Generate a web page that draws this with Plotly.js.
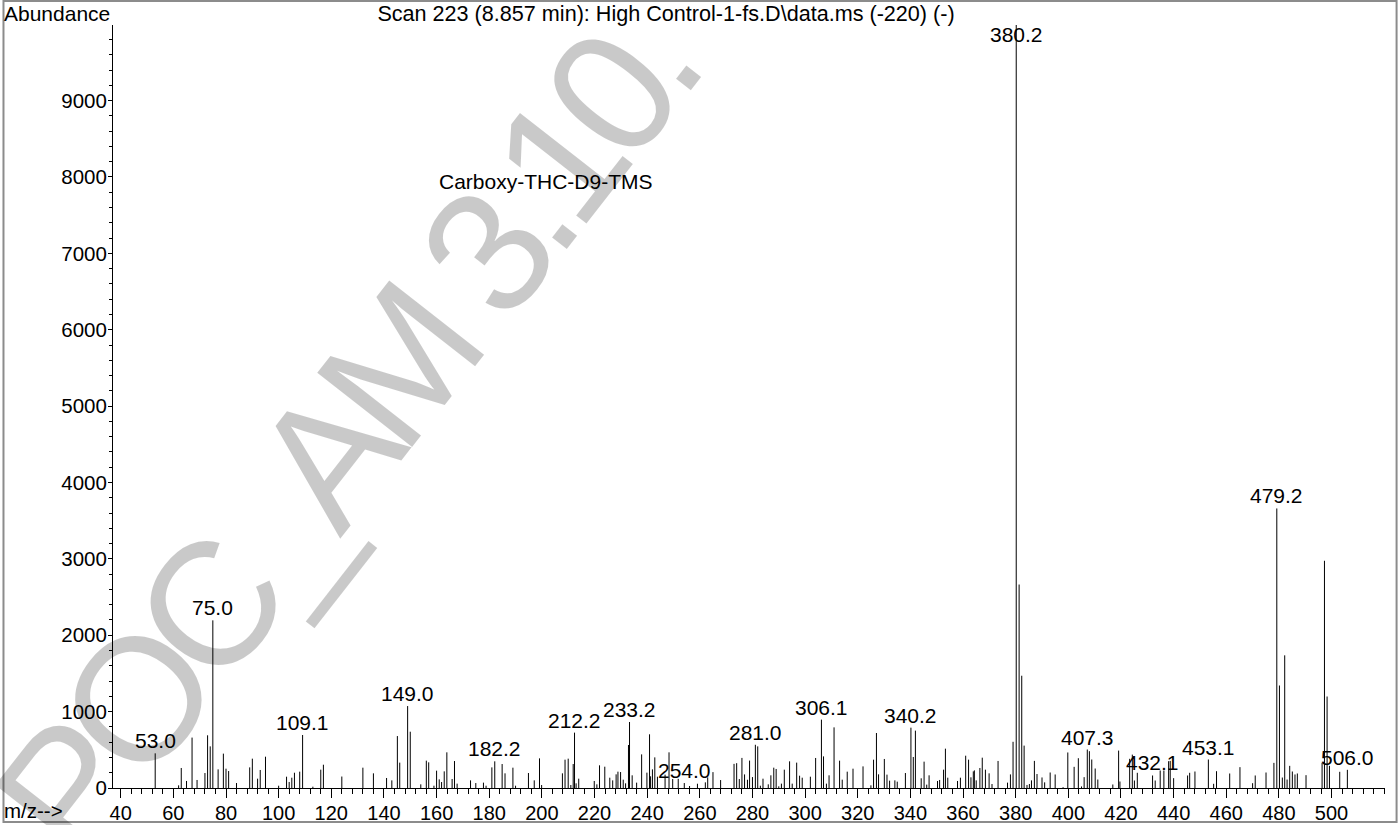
<!DOCTYPE html>
<html>
<head>
<meta charset="utf-8">
<script src="https://cdn.plot.ly/plotly-3.0.1.min.js"></script>
<style>
  html, body { margin: 0; padding: 0; background: #ffffff; }
  #chart { width: 1400px; height: 825px; }
</style>
</head>
<body>
<div id="chart"></div>
<script>
// ---- data: m/z of each ion and its abundance ----
var mz = [
  53.1, 62.0, 63.0, 65.0, 67.1, 69.0, 72.0, 73.0, 74.0, 75.0, 77.0, 79.0, 80.0, 81.0, 84.0,
  89.0, 90.0, 92.0, 93.0, 95.0, 100.0, 103.0, 104.0, 105.0, 106.0, 108.0, 109.1, 113.0, 116.0, 117.0,
  124.0, 132.0, 136.0, 141.0, 143.0, 145.1, 146.0, 149.0, 150.0, 154.0, 156.1, 157.0, 159.0, 160.0,
  161.0, 161.9, 162.9, 163.9, 165.9, 166.8, 167.8, 172.9, 174.9, 177.8, 178.8, 181.0, 182.1, 184.9,
  186.0, 189.0, 190.0, 194.9, 197.1, 199.1, 199.9, 207.8, 208.8, 210.0, 211.0, 211.9, 212.4, 213.0,
  214.0, 219.9, 220.9, 221.9, 223.9, 225.8, 226.9, 228.2, 228.9, 229.9, 230.9, 231.8, 232.9, 233.3,
  234.3, 236.0, 237.9, 239.9, 240.9, 241.3, 242.0, 242.9, 243.9, 246.8, 248.3, 249.7, 251.8, 254.1,
  256.1, 259.1, 262.1, 263.0, 265.0, 267.9, 273.0, 274.0, 275.0, 276.0, 277.0, 278.1, 278.9, 280.0,
  281.1, 282.0, 283.0, 284.0, 286.0, 287.0, 288.1, 289.0, 290.0, 291.0, 292.1, 294.1, 295.1, 296.8,
  297.9, 298.9, 302.0, 304.0, 306.2, 307.0, 308.1, 309.1, 311.0, 313.1, 314.1, 316.0, 318.2, 322.0,
  325.0, 326.0, 327.1, 327.9, 330.1, 331.1, 332.1, 334.1, 335.0, 338.1, 340.2, 341.1, 341.9, 344.1,
  345.2, 346.2, 347.1, 350.3, 351.1, 352.6, 353.3, 354.2, 357.9, 359.0, 361.0, 362.1, 363.0, 363.9,
  364.3, 365.0, 366.4, 367.3, 368.5, 369.9, 371.0, 373.3, 376.9, 378.0, 379.0, 380.2, 381.3, 382.3,
  383.2, 384.3, 385.2, 386.0, 387.1, 388.1, 390.0, 391.0, 393.1, 395.0, 398.0, 399.8, 402.2, 403.8,
  405.0, 406.0, 407.2, 408.0, 408.9, 410.2, 411.2, 416.9, 419.1, 419.6, 423.3, 424.3, 425.1, 426.2,
  432.0, 433.0, 434.9, 436.3, 438.1, 438.7, 440.0, 445.3, 446.1, 448.1, 453.2, 455.2, 456.3, 461.3,
  465.2, 470.0, 471.0, 475.1, 478.1, 479.2, 480.2, 481.3, 482.2, 483.1, 484.1, 485.1, 486.1, 487.0,
  490.3, 496.4, 497.3, 498.3, 499.2, 503.1, 506.0
];
var abundance = [
  454, 35, 262, 92, 660, 105, 196, 690, 545, 2195, 244, 450, 253, 222, 65,
  270, 384, 122, 236, 410, 30, 148, 79, 135, 200, 214, 694, 17, 240, 305,
  150, 266, 192, 131, 100, 680, 332, 1073, 737, 48, 358, 336, 30, 227,
  113, 78, 218, 467, 118, 353, 57, 100, 65, 70, 30, 270, 349, 314,
  192, 266, 30, 196, 100, 388, 39, 192, 371, 384, 39, 314, 725, 61,
  122, 92, 48, 297, 279, 135, 100, 179, 214, 209, 109, 61, 563, 864,
  166, 70, 440, 201, 703, 153, 244, 401, 148, 175, 467, 117, 120, 65,
  26, 56, 74, 139, 208, 104, 316, 325, 117, 394, 178, 108, 359, 143,
  566, 545, 30, 122, 48, 166, 266, 249, 22, 57, 240, 349, 57, 332,
  161, 135, 148, 393, 895, 414, 57, 166, 794, 358, 109, 214, 253, 283,
  35, 371, 720, 179, 380, 175, 96, 100, 83, 196, 790, 406, 751, 127,
  345, 44, 166, 92, 105, 240, 515, 135, 92, 135, 423, 371, 140, 218,
  231, 100, 262, 397, 240, 192, 52, 354, 70, 178, 605, 9990, 2664, 1470,
  555, 40, 52, 100, 355, 183, 138, 74, 203, 177, 11, 465, 277, 390,
  20, 142, 504, 482, 373, 255, 111, 46, 490, 85, 382, 437, 98, 199,
  164, 98, 229, 229, 351, 355, 129, 164, 199, 216, 373, 55, 220, 190,
  273, 63, 164, 203, 329, 3660, 1342, 137, 1737, 111, 290, 216, 177, 190,
  168, 329, 2975, 1198, 290, 212, 238
];
// labelled peaks (m/z as printed)
var labelMz = [53.0, 75.0, 109.1, 149.0, 182.2, 212.2, 233.2, 254.0, 281.0, 306.1,
               340.2, 380.2, 407.3, 432.1, 453.1, 479.2, 506.0];
var xTicks = [40, 60, 80, 100, 120, 140, 160, 180, 200, 220, 240, 260, 280, 300,
              320, 340, 360, 380, 400, 420, 440, 460, 480, 500];
var yTicks = [0, 1000, 2000, 3000, 4000, 5000, 6000, 7000, 8000, 9000];

var titleText = 'Scan 223 (8.857 min): High Control-1-fs.D\\data.ms (-220) (-)';
var compoundText = 'Carboxy-THC-D9-TMS';
var watermarkText = 'POC_AM 3.10.';

// ---- build stick trace ----
var sx = [], sy = [];
for (var i = 0; i < mz.length; i++) {
  sx.push(mz[i], mz[i], null);
  sy.push(0, abundance[i], null);
}
var FONT = 'Liberation Sans, Arial, Helvetica, sans-serif';
var FS = 21;
var Y_MAX = 9990;
var LABEL_CAP = 9700;

function nearestPeak(m) {
  var best = 0, bd = 1e9;
  for (var i = 0; i < mz.length; i++) {
    var d = Math.abs(mz[i] - m);
    if (d < bd) { bd = d; best = i; }
  }
  return best;
}

var annotations = [];
labelMz.forEach(function (m) {
  var k = nearestPeak(m);
  annotations.push({
    x: mz[k], y: Math.min(abundance[k], LABEL_CAP), xref: 'x', yref: 'y',
    text: m.toFixed(1), showarrow: false, xanchor: 'center', yanchor: 'bottom',
    yshift: -1, font: {family: FONT, size: FS, color: '#000'}
  });
});
annotations.push({
  xref: 'paper', yref: 'paper', x: 0.3404, y: 0.7955, text: compoundText,
  showarrow: false, xanchor: 'center', yanchor: 'middle',
  font: {family: FONT, size: FS, color: '#000'}
});
annotations.push({
  xref: 'paper', yref: 'paper', x: -0.0873, y: 1.0157, text: 'Abundance',
  showarrow: false, xanchor: 'left', yanchor: 'middle',
  font: {family: FONT, size: FS, color: '#000'}
});
annotations.push({
  xref: 'paper', yref: 'paper', x: -0.0873, y: -0.0301, text: 'm/z-->',
  showarrow: false, xanchor: 'left', yanchor: 'middle',
  font: {family: FONT, size: 20.5, color: '#000'}
});
// watermark (tight letter spacing applied by a style rule below)
var wmIndex = annotations.length;
annotations.push({
  xref: 'paper', yref: 'paper', x: 0.1816, y: 0.4626, text: watermarkText,
  showarrow: false, xanchor: 'center', yanchor: 'middle', textangle: -52,
  font: {family: FONT, size: 175, color: 'rgba(0,0,0,0.21)'}
});
var st = document.createElement('style');
st.textContent = '.annotation[data-index="' + wmIndex + '"] text { letter-spacing: -14px; }';
document.head.appendChild(st);

var trace = {
  type: 'scatter', mode: 'lines', x: sx, y: sy,
  line: {color: '#000', width: 1}, hoverinfo: 'skip', showlegend: false,
  connectgaps: false, cliponaxis: true
};

var layout = {
  width: 1400, height: 825,
  margin: {l: 113, r: 15, t: 25, b: 37, pad: 0},
  paper_bgcolor: '#fff', plot_bgcolor: '#fff',
  showlegend: false,
  title: {
    text: titleText, xref: 'container', yref: 'container',
    x: 666 / 1400, xanchor: 'center', y: 1 - 13 / 825, yanchor: 'middle',
    font: {family: FONT, size: 21.6, color: '#000'}
  },
  xaxis: {
    range: [37.07, 520.3], showgrid: false, zeroline: false,
    showline: true, linecolor: '#000', linewidth: 1,
    tickmode: 'array', tickvals: xTicks, ticktext: xTicks.map(String),
    ticks: 'outside', ticklen: 9, tickcolor: '#000', tickwidth: 1,
    ticklabelstandoff: -2,
    minor: {dtick: 4, tick0: 40, ticks: 'outside', ticklen: 5, tickcolor: '#000', tickwidth: 1, showgrid: false},
    tickfont: {family: FONT, size: 20, color: '#000'}
  },
  yaxis: {
    range: [0, Y_MAX], showgrid: false, zeroline: false,
    showline: true, linecolor: '#000', linewidth: 1,
    tickmode: 'array', tickvals: yTicks, ticktext: yTicks.map(String),
    ticks: 'outside', ticklen: 4, tickcolor: '#000', tickwidth: 1,
    ticklabelstandoff: -3,
    minor: {dtick: 200, tick0: 0, ticks: 'outside', ticklen: 3, tickcolor: '#000', tickwidth: 1, showgrid: false},
    tickfont: {family: FONT, size: 20.5, color: '#000'}
  },
  annotations: annotations,
  shapes: [{
    type: 'rect', xref: 'paper', yref: 'paper',
    x0: -0.0861, x1: 1.0091, y0: -0.0446, y1: 1.0315,
    line: {color: '#8c8c8c', width: 2}, fillcolor: 'rgba(0,0,0,0)', layer: 'below'
  }]
};

Plotly.newPlot('chart', [trace], layout, {staticPlot: true, displayModeBar: false});
</script>
</body>
</html>
